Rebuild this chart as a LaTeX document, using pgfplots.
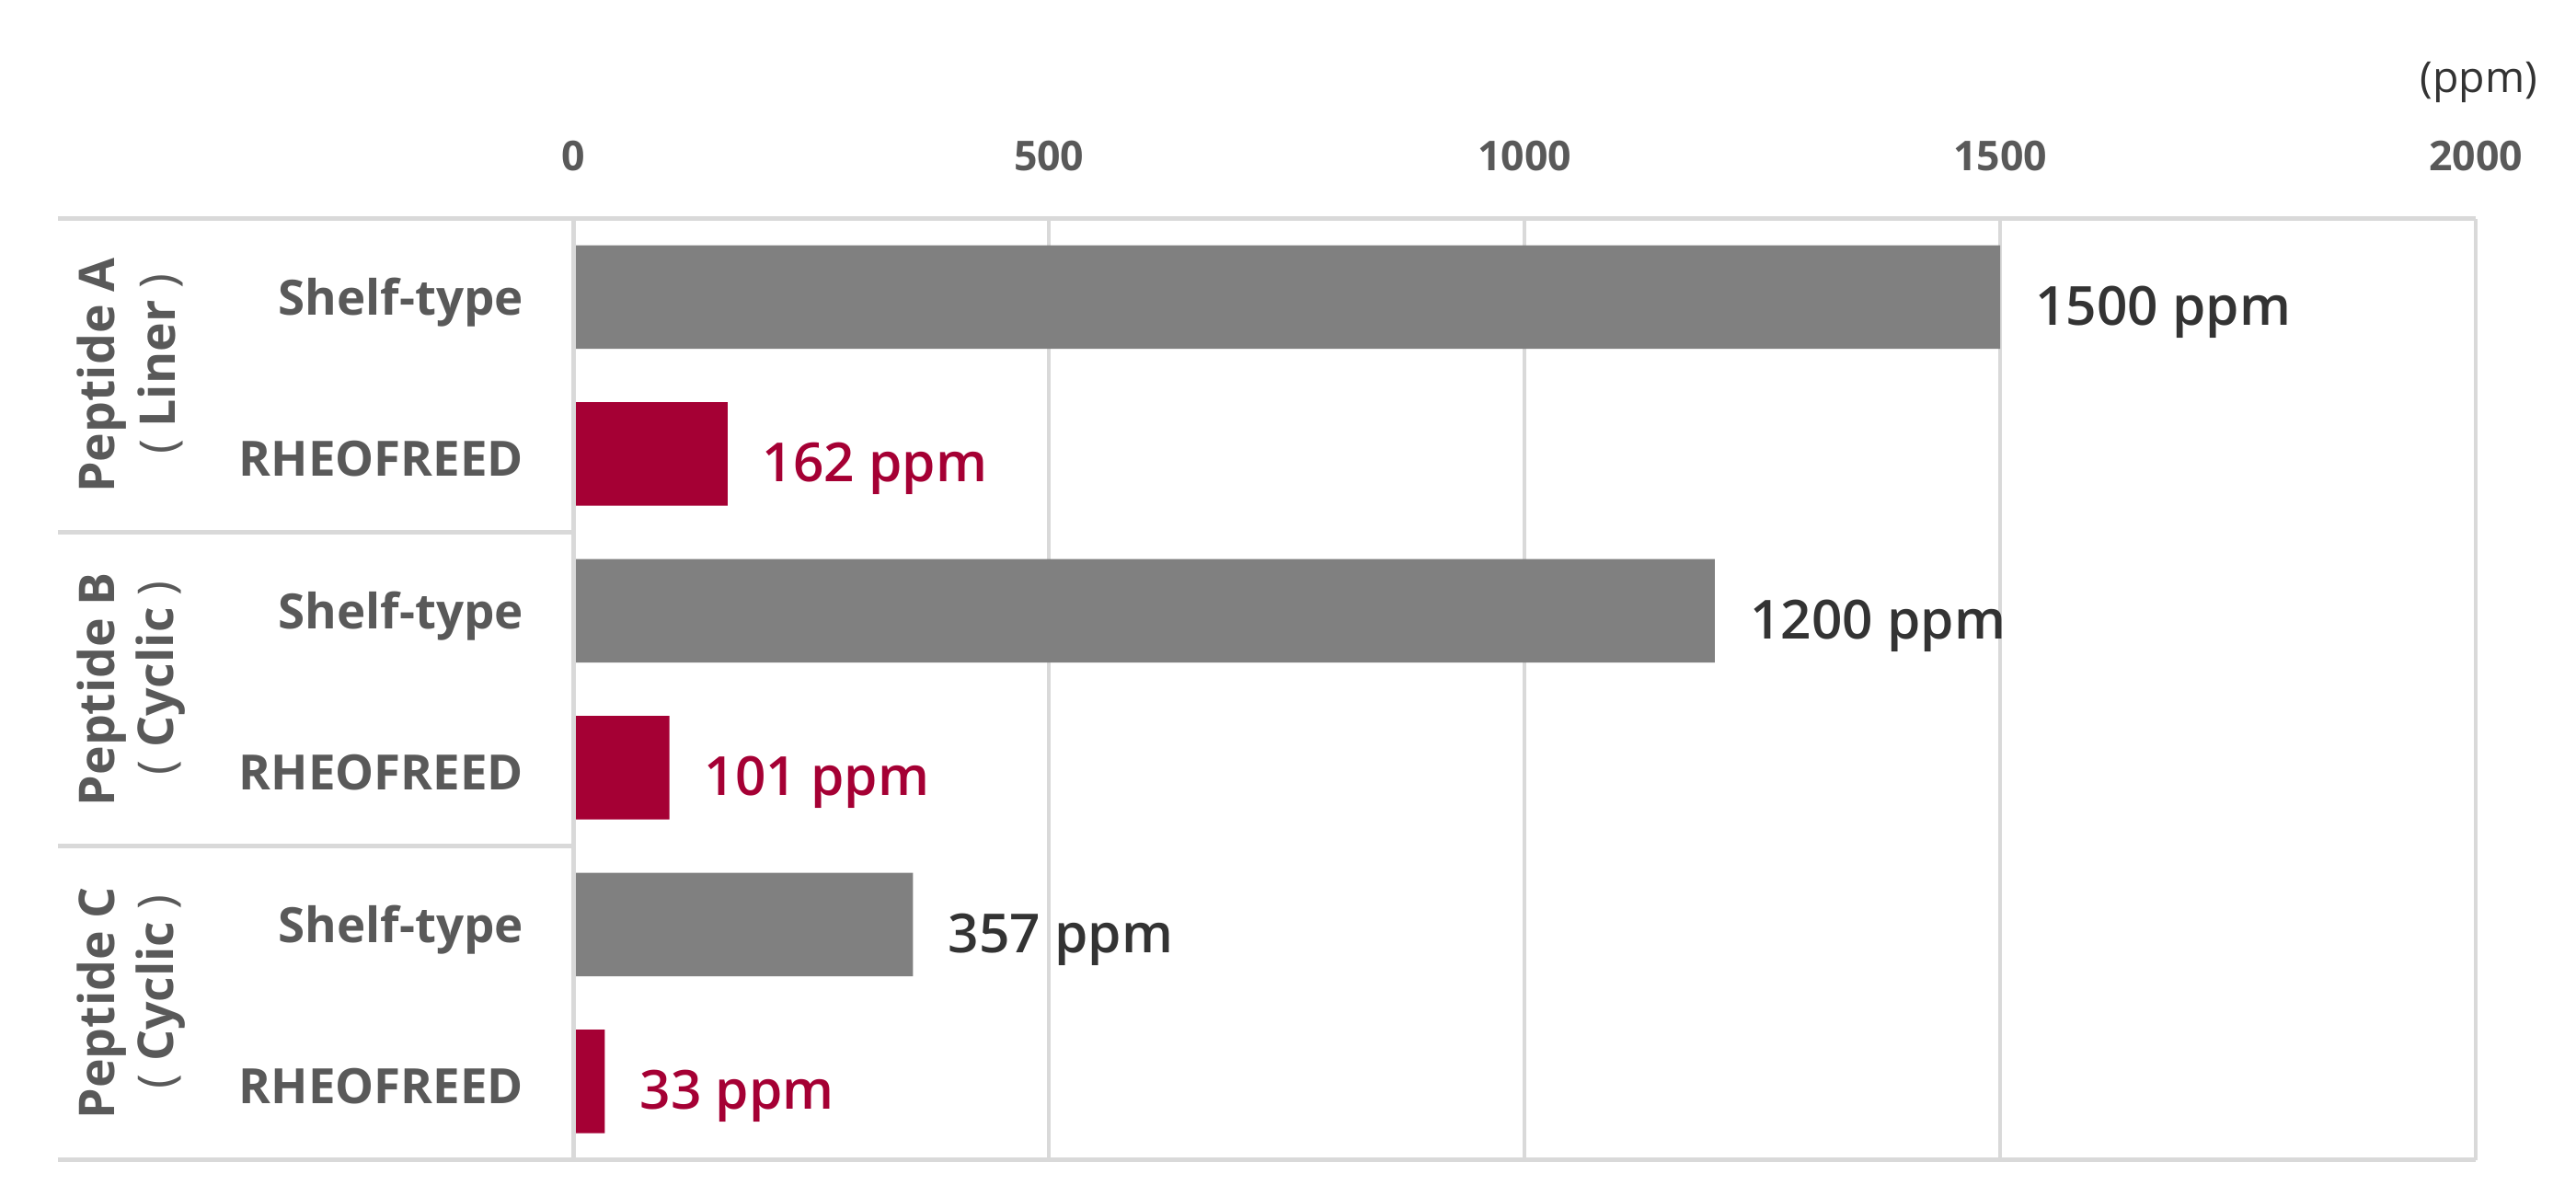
\documentclass[border=0pt]{standalone}
\usepackage{fontspec}
\setmainfont{Open Sans}
\newfontfamily\osemi{Open Sans Semibold}
\usepackage{pgfplots}
\usepackage{pgfplotstable}
\pgfplotsset{compat=1.18}
\definecolor{gridgray}{HTML}{D9D9D9}
\definecolor{bargray}{HTML}{808080}
\definecolor{barred}{HTML}{A50034}
\definecolor{labgray}{HTML}{595959}
\definecolor{valgray}{HTML}{333333}

\pgfplotstableread{
y v
0 1500
2 1200
4 357
}\shelf
\pgfplotstableread{
y v
1 162
3 101
5 33
}\rheo

\newcommand{\fwp}[1]{\hspace{7pt}{\mdseries(}\hspace{0.25em}#1\hspace{0.25em}{\mdseries)}}

\begin{document}
\begin{tikzpicture}
\begin{axis}[
  scale only axis, width=579pt, height=286.5pt,
  xmin=0, xmax=2000, ymin=-0.5, ymax=5.5, y dir=reverse,
  xbar, bar width=0.66, bar shift=0pt,
  axis line style={draw=none},
  xtick={0,500,1000,1500,2000},
  xticklabel pos=upper,
  /pgf/number format/1000 sep={},
  /pgf/number format/assume math mode=true,
  xticklabel style={anchor=base, yshift=14.5pt, font=\bfseries\fontsize{12.5}{12.5}\selectfont, text=labgray},
  ytick={0,1,2,3,4,5},
  yticklabels={Shelf-type,RHEOFREED,Shelf-type,RHEOFREED,Shelf-type,RHEOFREED},
  yticklabel style={anchor=east, inner sep=0pt, xshift=-15pt, yshift=-1.5pt, font=\bfseries\fontsize{14.8}{14.8}\selectfont, text=labgray},
  major tick length=0pt,
  xmajorgrids, major grid style={gridgray, line width=1.2pt},
  clip=false,
  point meta=x,
  nodes near coords={\pgfmathprintnumber{\pgfplotspointmeta} ppm},
  every node near coord/.append style={anchor=west, inner sep=0pt, xshift=10.5pt, yshift=-4.5pt, font=\osemi\fontsize{16.4}{16.4}\selectfont},
]
\addplot[fill=bargray, draw=none, every node near coord/.append style={text=valgray}] table[x=v,y=y]{\shelf};
\addplot[fill=barred, draw=none, every node near coord/.append style={text=barred}] table[x=v,y=y]{\rheo};

\draw[gridgray, line width=1.5pt] (axis cs:-542,-0.5) -- (axis cs:2000,-0.5);
\draw[gridgray, line width=1.5pt] (axis cs:-542,5.5) -- (axis cs:2000,5.5);
\draw[gridgray, line width=1.5pt] (axis cs:0,-0.5) -- (axis cs:0,5.5);
\draw[gridgray, line width=1.5pt] (axis cs:-542,1.5) -- (axis cs:0,1.5);
\draw[gridgray, line width=1.5pt] (axis cs:-542,3.5) -- (axis cs:0,3.5);

\node[rotate=90, font=\bfseries\fontsize{15}{15}\selectfont, text=labgray] at (axis cs:-496,0.5) {Peptide A};
\node[rotate=90, font=\bfseries\fontsize{15}{15}\selectfont, text=labgray] at (axis cs:-434,0.5) {\fwp{Liner}};
\node[rotate=90, font=\bfseries\fontsize{15}{15}\selectfont, text=labgray] at (axis cs:-496,2.5) {Peptide B};
\node[rotate=90, font=\bfseries\fontsize{15}{15}\selectfont, text=labgray] at (axis cs:-434,2.5) {\fwp{Cyclic}};
\node[rotate=90, font=\bfseries\fontsize{15}{15}\selectfont, text=labgray] at (axis cs:-496,4.5) {Peptide C};
\node[rotate=90, font=\bfseries\fontsize{15}{15}\selectfont, text=labgray] at (axis cs:-434,4.5) {\fwp{Cyclic}};

\node[anchor=east, inner sep=0pt, font=\fontsize{13}{13}\selectfont, text=valgray] at (axis cs:2065.6,-1.369) {(ppm)};

\path (axis cs:-602.8,-1.8927) rectangle (axis cs:2105.3,5.7304);
\end{axis}
\end{tikzpicture}
\end{document}
